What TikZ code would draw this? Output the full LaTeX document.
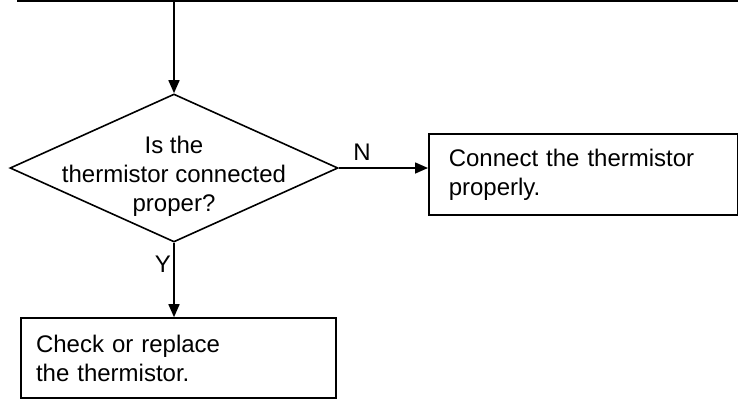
\documentclass[tikz,border=0pt]{standalone}
\usepackage{fontspec}
\setmainfont{Liberation Sans}
\usetikzlibrary{shapes.geometric,arrows.meta}
\begin{document}
\begin{tikzpicture}[x=1pt,y=-1pt,
  line width=1.6pt,
  every node/.style={font=\fontsize{24}{29}\selectfont},
  decision/.style={diamond,draw,minimum width=328pt,minimum height=148pt,inner sep=0pt},
  procbox/.style={draw,rectangle,align=left,inner ysep=0pt},
  conn/.style={-{Triangle[length=13pt,width=11pt]}},
  lbl/.style={inner sep=0pt}]
\useasboundingbox (0,0) rectangle (738,400);
\coordinate (tl) at (17,1);
\coordinate (tr) at (738,1);
\coordinate (tv) at (174,1);
\draw (tl) -- (tr);
\node[decision] (d) at (174,168) {};
\node[align=center,inner sep=0pt] (dt) at (174,176) {Is the\\thermistor connected\\proper?};
\node[procbox,minimum width=309pt,minimum height=81pt,text width=269pt,inner xsep=20pt,inner ysep=4pt,anchor=north west] (b1) at (428,133) {\raisebox{-4pt}{\parbox{269pt}{Connect the thermistor\\properly.}}};
\node[procbox,minimum width=315pt,minimum height=80pt,text width=285pt,inner xsep=15pt] (b2) at (178.5,358) {Check or replace\\the thermistor.};
\draw[conn] (tv) -- (d.north);
\draw[conn] (d.east) -- (d.east -| b1.west);
\draw[conn] (d.south) -- (d.south |- b2.north);
\node[lbl] (n) at (362,152) {N};
\node[lbl] (y) at (163,264) {Y};
\end{tikzpicture}
\end{document}
